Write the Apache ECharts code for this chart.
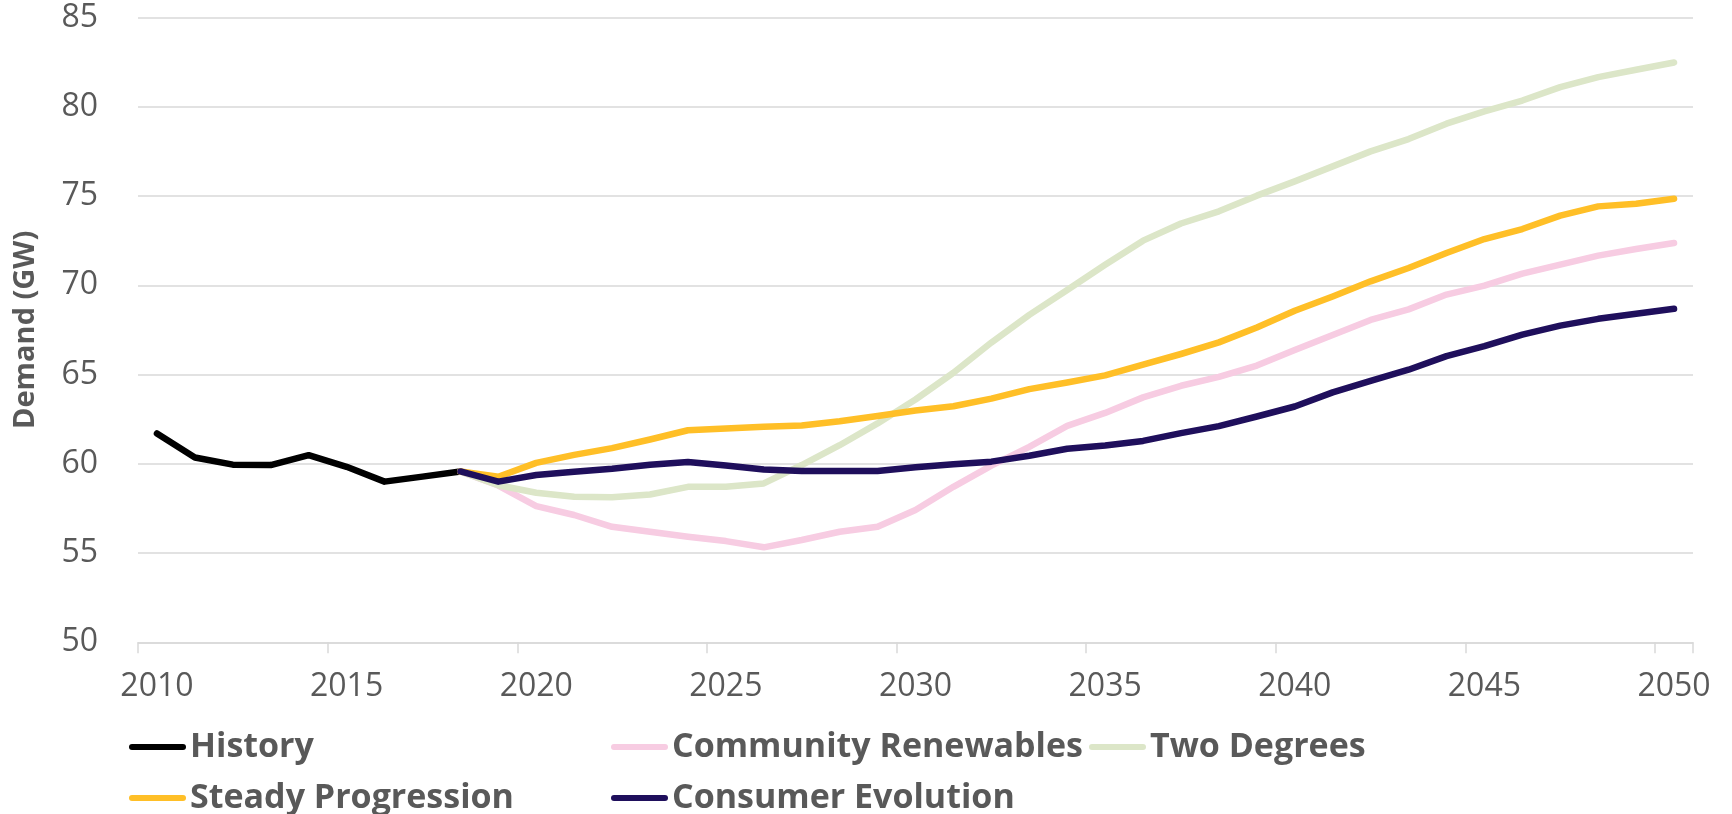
<!DOCTYPE html>
<html>
<head>
<meta charset="utf-8">
<title>Demand (GW)</title>
<script src="https://cdn.jsdelivr.net/npm/echarts@6/dist/echarts.min.js"></script>
<style>
  html, body { margin: 0; padding: 0; background: #fff; }
  #chart { width: 1732px; height: 814px; }
</style>
</head>
<body>
<div id="chart"></div>
<script>
// years on the category axis
var years = [];
for (var y = 2010; y <= 2050; y++) { years.push(String(y)); }

var yTicks = [50, 55, 60, 65, 70, 75, 80, 85];

// 2010 - 2018
var historyDemand = [61.7, 60.35, 59.95, 59.93, 60.48, 59.83, 59.0, 59.28, 59.57];

// scenarios, 2018 - 2050
var communityRenewables = [59.57, 58.78, 57.63, 57.13, 56.47, 56.19, 55.91, 55.67, 55.32, 55.73,
  56.19, 56.47, 57.41, 58.71, 59.9, 60.95, 62.12, 62.85, 63.72, 64.37, 64.87, 65.5, 66.38,
  67.22, 68.06, 68.65, 69.48, 69.98, 70.65, 71.16, 71.66, 72.03, 72.37];
var twoDegrees = [59.57, 58.8, 58.38, 58.15, 58.12, 58.28, 58.71, 58.71, 58.9, 59.93,
  61.04, 62.26, 63.6, 65.1, 66.79, 68.34, 69.74, 71.15, 72.5, 73.46, 74.14, 75.02, 75.82,
  76.66, 77.5, 78.19, 79.05, 79.74, 80.35, 81.1, 81.66, 82.07, 82.48];
var steadyProgression = [59.57, 59.27, 60.05, 60.5, 60.88, 61.36, 61.88, 61.98, 62.07, 62.14,
  62.38, 62.68, 62.98, 63.22, 63.65, 64.18, 64.55, 64.95, 65.55, 66.15, 66.8, 67.63, 68.57,
  69.37, 70.22, 70.97, 71.81, 72.59, 73.15, 73.9, 74.42, 74.57, 74.85];
var consumerEvolution = [59.57, 59.0, 59.37, 59.55, 59.72, 59.95, 60.1, 59.9, 59.68, 59.6,
  59.6, 59.6, 59.8, 59.97, 60.12, 60.45, 60.84, 61.03, 61.28, 61.72, 62.11, 62.65, 63.21,
  64.0, 64.65, 65.27, 66.03, 66.59, 67.24, 67.74, 68.12, 68.41, 68.68];

var seriesNames = ['History', 'Community Renewables', 'Two Degrees', 'Steady Progression', 'Consumer Evolution'];
var seriesColors = ['#000000', '#F7CCE2', '#DCE6C8', '#FFBF27', '#1F0F5C'];

// pad the history to full length, and the scenarios start at 2018
function padEnd(arr) {
  var out = arr.slice();
  while (out.length < years.length) out.push(null);
  return out;
}
function padStart(arr) {
  var out = [];
  while (out.length + arr.length < years.length) out.push(null);
  return out.concat(arr);
}
var seriesData = [
  padEnd(historyDemand),
  padStart(communityRenewables),
  padStart(twoDegrees),
  padStart(steadyProgression),
  padStart(consumerEvolution)
];

var textColor = '#595959';
var gridColor = '#D9D9D9';

var myChart = echarts.init(document.getElementById('chart'));

// one legend per item so they sit in fixed columns like the original
var legendSpots = [
  { left: 129, top: 730 },
  { left: 611, top: 730 },
  { left: 1089, top: 730 },
  { left: 129, top: 781 },
  { left: 611, top: 781 }
];
var legends = seriesNames.map(function (name, i) {
  return {
    data: [name],
    left: legendSpots[i].left,
    top: legendSpots[i].top,
    padding: 0,
    itemWidth: 57,
    itemHeight: 6,
    itemGap: 0,
    icon: 'path://M3,0L54,0A3,3,0,0,1,54,6L3,6A3,3,0,0,1,3,0Z',
    selectedMode: false,
    textStyle: {
      fontFamily: 'Open Sans',
      fontWeight: 'bold',
      fontSize: 34,
      lineHeight: 34,
      color: textColor,
      padding: [0, 0, 0, -1]
    }
  };
});

var series = seriesNames.map(function (name, i) {
  return {
    name: name,
    type: 'line',
    data: seriesData[i],
    symbol: 'none',
    smooth: false,
    connectNulls: false,
    itemStyle: { color: seriesColors[i] },
    lineStyle: { color: seriesColors[i], width: 6.5, cap: 'round', join: 'round' },
    emphasis: { disabled: true }
  };
});

var option = {
  animation: false,
  backgroundColor: '#ffffff',
  legend: legends,
  grid: {
    left: 138,
    right: 39,
    top: 17.5,
    bottom: 171.7,
    containLabel: false
  },
  xAxis: {
    type: 'category',
    data: years,
    boundaryGap: true,
    axisLine: { show: true, lineStyle: { color: gridColor, width: 1.5 } },
    axisTick: { show: true, interval: 4, length: 11, lineStyle: { color: gridColor, width: 1.5 } },
    axisLabel: {
      interval: 4,
      margin: 29,
      fontFamily: 'Open Sans',
      fontSize: 32,
      color: textColor
    },
    splitLine: { show: false }
  },
  yAxis: {
    type: 'value',
    min: yTicks[0],
    max: yTicks[yTicks.length - 1],
    interval: 5,
    name: 'Demand (GW)',
    nameLocation: 'middle',
    nameRotate: 90,
    nameGap: 98,
    nameTextStyle: {
      fontFamily: 'Open Sans',
      fontWeight: 'bold',
      fontSize: 29,
      color: textColor
    },
    axisLine: { show: false },
    axisTick: { show: false },
    axisLabel: {
      margin: 40,
      fontFamily: 'Open Sans',
      fontSize: 32,
      color: textColor
    },
    splitLine: { show: true, lineStyle: { color: gridColor, width: 1.5 } }
  },
  series: series
};

myChart.setOption(option);
</script>
</body>
</html>
